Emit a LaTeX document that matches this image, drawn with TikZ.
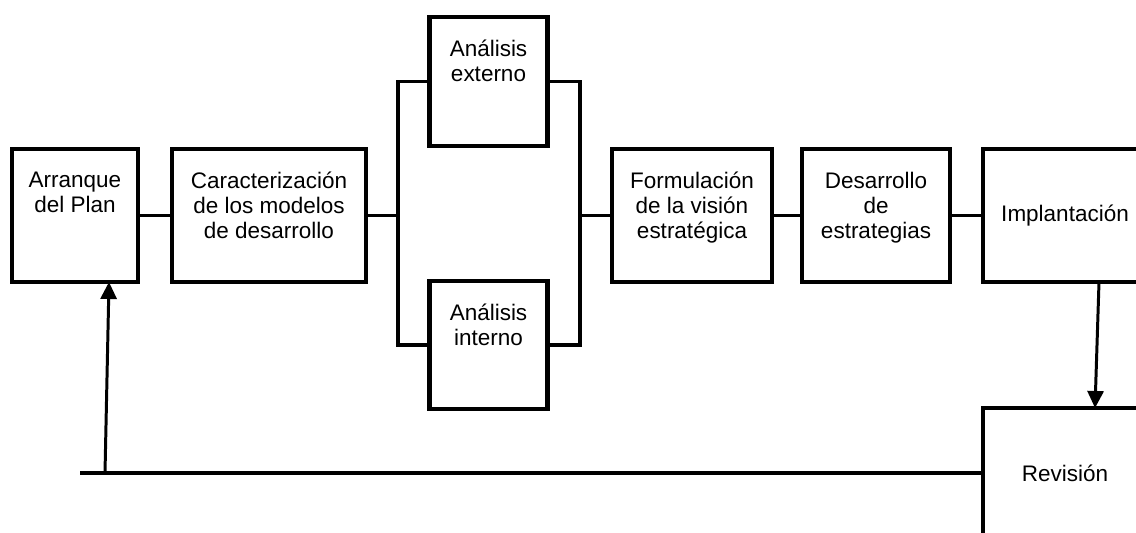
\documentclass[tikz,border=0pt]{standalone}
\usepackage{fontspec}
\setmainfont{Liberation Sans}
\usetikzlibrary{positioning,arrows.meta}

\begin{document}
\begin{tikzpicture}[
	every node/.style = {font=\fontsize{12.8}{14.2}\selectfont, align=center, inner sep=0pt},
	blk/.style = {draw, rectangle, line width=2.3pt, outer sep=0pt},
	wide/.style = {minimum width=#1},
	lbl/.style = {below=0.46cm of #1.north},
	link/.style = {line width=2.2pt},
	back/.style = {line width=1.7pt, -{Triangle[width=0.32cm,length=0.34cm]}}
	]
	\useasboundingbox (0,0) rectangle (22.72,-10.66);

	% boxes
	\node[blk, wide=2.52cm, minimum height=2.66cm] (arr) at (1.50,-4.31) {};
	\node[blk, wide=3.88cm, minimum height=2.66cm] (car) at (5.38,-4.31) {};
	\node[blk, wide=2.36cm, minimum height=2.58cm] (ext) at (9.77,-1.63) {};
	\node[blk, wide=2.36cm, minimum height=2.56cm] (int) at (9.77,-6.90) {};
	\node[blk, wide=3.20cm, minimum height=2.66cm] (for) at (13.84,-4.31) {};
	\node[blk, wide=2.96cm, minimum height=2.66cm] (des) at (17.52,-4.31) {};
	\node[blk, wide=3.28cm, minimum height=2.66cm] (imp) at (21.30,-4.31) {Implantación};
	\node[blk, wide=3.28cm, minimum height=2.60cm] (rev) at (21.30,-9.46) {Revisión};

	% texts
	\node[lbl=arr] (arrtxt) {Arranque\\del Plan};
	\node[lbl=car] (cartxt) {Caracterización\\de los modelos\\de desarrollo};
	\node[lbl=ext] (exttxt) {Análisis\\externo};
	\node[lbl=int] (inttxt) {Análisis\\interno};
	\node[lbl=for] (fortxt) {Formulación\\de la visión\\estratégica};
	\node[lbl=des] (destxt) {Desarrollo\\de\\estrategias};

	% joints
	\coordinate (jl) at (7.96,-4.31);
	\coordinate (jr) at (11.60,-4.31);
	\coordinate (lend) at (1.60,-9.46);
	\coordinate (foot) at (2.10,-9.46);

	% connectors
	\draw[link] (arr) -- (car);
	\draw[link] (car) -- (jl);
	\draw[link] (ext.west) -| (jl) |- (int.west);
	\draw[link] (ext.east) -| (jr) |- (int.east);
	\draw[link] (jr) -- (for);
	\draw[link] (for) -- (des);
	\draw[link] (des) -- (imp);
	\draw[back] ([xshift=0.68cm]imp.south) -- ([xshift=0.60cm]rev.north);
	\draw[link] (rev.west) -- (lend);
	\draw[back] (foot) -- ([xshift=0.68cm]arr.south);
\end{tikzpicture}
\end{document}
